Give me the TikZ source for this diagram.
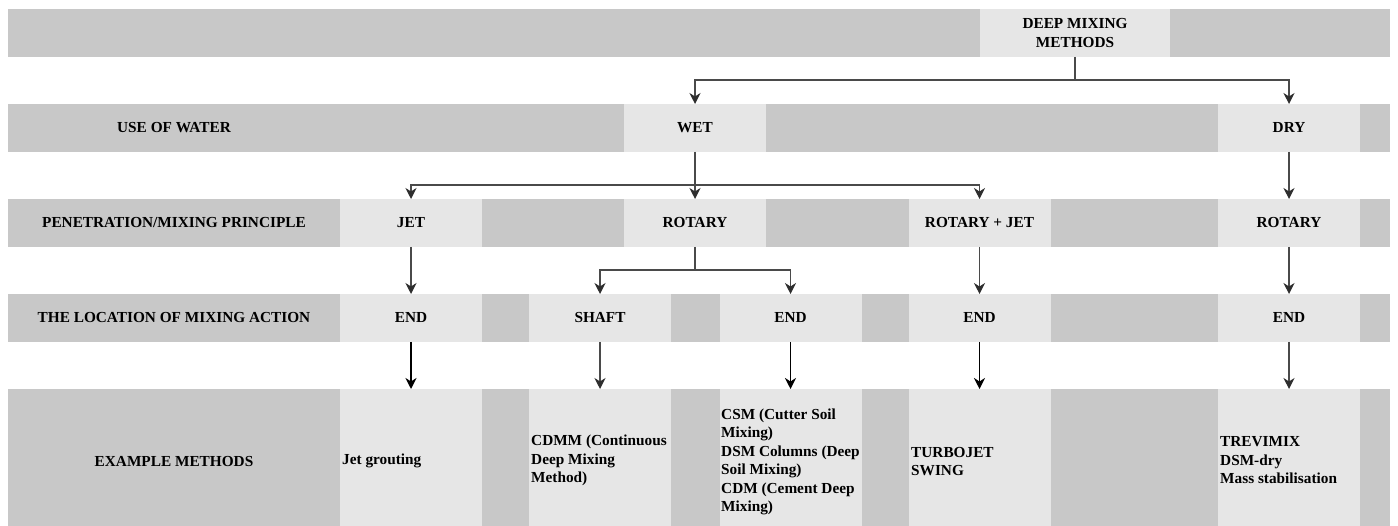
\documentclass[tikz,border=0pt]{standalone}
\usepackage{fontspec}
\setmainfont{Liberation Serif}
\usetikzlibrary{arrows.meta}
\definecolor{bandgray}{HTML}{C8C8C8}
\definecolor{cellgray}{HTML}{E6E6E6}
\definecolor{linegray}{HTML}{4A4A4A}
\definecolor{tipgray}{HTML}{2E2E2E}
\tikzset{
  band/.style={fill=bandgray, draw=none, inner sep=0pt, outer sep=0pt, minimum width=1382pt, anchor=north west},
  cell/.style={fill=cellgray, draw=none, inner sep=0pt, outer sep=0pt, minimum width=142pt, minimum height=48pt,
    font=\bfseries\fontsize{15.3}{18.5}\selectfont, align=center},
  lbl/.style={inner sep=0pt, font=\bfseries\fontsize{15.3}{18.5}\selectfont, align=center},
  extext/.style={inner sep=0pt, anchor=west, font=\bfseries\fontsize{15.3}{18.5}\selectfont, align=left},
  conn/.style={draw=linegray, line width=1.4pt},
  arr/.style={conn, -{Stealth[length=11pt,width=11pt,inset=3.5pt,color=tipgray]}},
  arrb/.style={draw=black, line width=1.8pt, -{Stealth[length=11pt,width=11pt,inset=3.5pt]}},
}
\begin{document}
\begin{tikzpicture}[x=1pt,y=-1pt]
\useasboundingbox (0,0) rectangle (1398,526);
% bands
\node[band, minimum height=48pt] (b0) at (8,9) {};
\node[band, minimum height=48pt] (b1) at (8,104) {};
\node[band, minimum height=48pt] (b2) at (8,199) {};
\node[band, minimum height=48pt] (b3) at (8,294) {};
\node[band, minimum height=137pt] (b4) at (8,389) {};
% row labels
\node[lbl] (l1) at (174,128) {USE OF WATER};
\node[lbl] (l2) at (174,223) {PENETRATION/MIXING PRINCIPLE};
\node[lbl] (l3) at (174,318) {THE LOCATION OF MIXING ACTION};
\node[lbl] (l4) at (174,462) {EXAMPLE METHODS};
% row 0
\node[cell, minimum width=190pt] (dmm) at (1075,33) {DEEP MIXING\\METHODS};
% row 1
\node[cell] (wet) at (695,128) {WET};
\node[cell] (dry) at (1289,128) {DRY};
% row 2
\node[cell] (jet) at (411,223) {JET};
\node[cell] (rot) at (695,223) {ROTARY};
\node[cell] (rotj) at (979.5,223) {ROTARY + JET};
\node[cell] (rotd) at (1289,223) {ROTARY};
% row 3
\node[cell] (end1) at (411,318) {END};
\node[cell] (shaft) at (600,318) {SHAFT};
\node[cell] (end2) at (790.5,318) {END};
\node[cell] (end3) at (979.5,318) {END};
\node[cell] (end4) at (1289,318) {END};
% row 4
\node[cell, minimum height=137pt] (ex1) at (411,457.5) {};
\node[cell, minimum height=137pt] (ex2) at (600,457.5) {};
\node[cell, minimum height=137pt] (ex3) at (790.5,457.5) {};
\node[cell, minimum height=137pt] (ex4) at (979.5,457.5) {};
\node[cell, minimum height=137pt] (ex5) at (1289,457.5) {};
\node[extext] (t1) at (342,461) {Jet grouting};
\node[extext] (t2) at (531,460.5) {CDMM (Continuous\\Deep Mixing\\Method)};
\node[extext] (t3) at (721,462) {CSM (Cutter Soil\\Mixing)\\DSM Columns (Deep\\Soil Mixing)\\CDM (Cement Deep\\Mixing)};
\node[extext] (t4) at (911,461.5) {TURBOJET\\SWING};
\node[extext] (t5) at (1220,460.5) {TREVIMIX\\DSM-dry\\Mass stabilisation};
% connectors
\coordinate (j0) at (1075,80);
\draw[conn] (dmm.south) -- (j0);
\draw[arr] (j0) -| (wet.north);
\draw[arr] (j0) -| (dry.north);
\coordinate (j1) at (695,185);
\draw[conn] (wet.south) -- (j1);
\draw[arr] (j1) -| (jet.north);
\draw[arr] (j1) -- (rot.north);
\draw[arr] (j1) -| (rotj.north);
\draw[arr] (dry.south) -- (rotd.north);
\coordinate (j2) at (695,270);
\draw[conn] (rot.south) -- (j2);
\draw[arr] (j2) -| (shaft.north);
\draw[arr] (j2) -| (end2.north);
\draw[arr] (jet.south) -- (end1.north);
\draw[arr] (rotj.south) -- (end3.north);
\draw[arr] (rotd.south) -- (end4.north);
\draw[arrb] (end1.south) -- (ex1.north);
\draw[arr] (shaft.south) -- (ex2.north);
\draw[arrb] (end2.south) -- (ex3.north);
\draw[arrb] (end3.south) -- (ex4.north);
\draw[arr] (end4.south) -- (ex5.north);
\end{tikzpicture}
\end{document}
